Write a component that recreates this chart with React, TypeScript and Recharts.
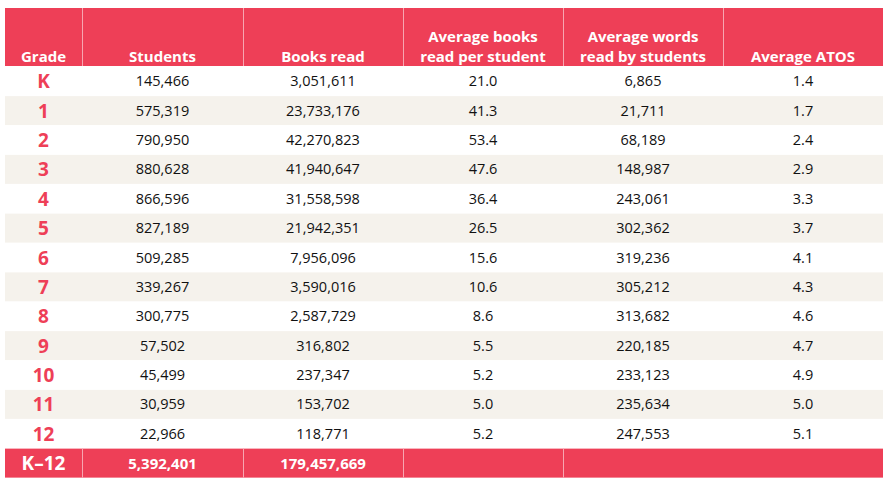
import React from "react";
import { BarChart, Bar, XAxis, YAxis } from "recharts";

const grades = ["K", "1", "2", "3", "4", "5", "6", "7", "8", "9", "10", "11", "12"];
const students = [145466, 575319, 790950, 880628, 866596, 827189, 509285, 339267, 300775, 57502, 45499, 30959, 22966];
const booksRead = [3051611, 23733176, 42270823, 41940647, 31558598, 21942351, 7956096, 3590016, 2587729, 316802, 237347, 153702, 118771];
const avgBooks = [21.0, 41.3, 53.4, 47.6, 36.4, 26.5, 15.6, 10.6, 8.6, 5.5, 5.2, 5.0, 5.2];
const avgWords = [6865, 21711, 68189, 148987, 243061, 302362, 319236, 305212, 313682, 220185, 233123, 235634, 247553];
const avgAtos = [1.4, 1.7, 2.4, 2.9, 3.3, 3.7, 4.1, 4.3, 4.6, 4.7, 4.9, 5.0, 5.1];
const headers = [["Grade"], ["Students"], ["Books read"], ["Average books", "read per student"], ["Average words", "read by students"], ["Average ATOS"]];
const totalLabel = "K\u201312";
const totalStudents = 5392401;
const totalBooks = 179457669;

// layout (column width weights)
const COL_W = [77, 161, 160, 160, 160, 160];
const TOTAL_W = COL_W.reduce((a, b) => a + b, 0);

const RED = "#EE3F57";
const BEIGE = "#F5F2EC";
const SEP = "#F7A6B1";
const FONT = "'Open Sans', sans-serif";

const fmtInt = (v: number) => v.toLocaleString("en-US");
const fmtDec = (v: number) => v.toFixed(1);

type Row = { key: string; kind: string; idx: number; cells: string[] };

const rows: Row[] = [
  { key: "h1", kind: "header", idx: -1, cells: [] },
  { key: "h2", kind: "header2", idx: -1, cells: [] },
  ...grades.map((g, i) => ({
    key: "g" + g,
    kind: "data",
    idx: i,
    cells: [g, fmtInt(students[i]), fmtInt(booksRead[i]), fmtDec(avgBooks[i]), fmtInt(avgWords[i]), fmtDec(avgAtos[i])],
  })),
  { key: "total", kind: "footer", idx: -1, cells: [totalLabel, fmtInt(totalStudents), fmtInt(totalBooks), "", "", ""] },
];

const makeShape = (col: number) => (props: any) => {
  const { x, y, width, height, payload } = props;
  const row: Row = payload;
  const cx = x + width / 2;
  if (row.kind === "header2") return <g />;
  if (row.kind === "header") {
    const h = height * 2;
    const lines = headers[col];
    const baseY = y + h - 4.5;
    return (
      <g>
        <rect x={x} y={y} width={width} height={h} fill={RED} />
        {col > 0 && <line x1={x + 0.5} x2={x + 0.5} y1={y} y2={y + h} stroke={SEP} strokeWidth={1} />}
        {lines.map((ln, li) => (
          <text
            key={li}
            x={cx}
            y={baseY - (lines.length - 1 - li) * 20}
            textAnchor="middle"
            fill="#fff"
            fontFamily={FONT}
            fontWeight={700}
            fontSize={15}
          >
            {ln}
          </text>
        ))}
      </g>
    );
  }
  if (row.kind === "footer") {
    return (
      <g>
        <rect x={x} y={y} width={width} height={height} fill={RED} />
        {col > 0 && col < 5 && <line x1={x + 0.5} x2={x + 0.5} y1={y} y2={y + height} stroke={SEP} strokeWidth={1} />}
        {row.cells[col] && (
          <text
            x={cx}
            y={y + height / 2}
            dy={col === 0 ? 7 : 5.5}
            textAnchor="middle"
            fill="#fff"
            fontFamily={FONT}
            fontWeight={700}
            fontSize={col === 0 ? 19 : 15}
          >
            {row.cells[col]}
          </text>
        )}
      </g>
    );
  }
  const bg = row.idx % 2 === 1 ? BEIGE : "#ffffff";
  return (
    <g>
      <rect x={x} y={y} width={width} height={height} fill={bg} />
      <text
        x={cx}
        y={y + height / 2}
        dy={col === 0 ? 7 : 5}
        textAnchor="middle"
        fill={col === 0 ? RED : "#111"}
        fontFamily={FONT}
        fontWeight={col === 0 ? 700 : 400}
        fontSize={col === 0 ? 19 : 14.5}
      >
        {row.cells[col]}
      </text>
    </g>
  );
};

export default function App() {
  return (
    <div style={{ position: "absolute", left: 0, top: 0, width: 887, height: 484, background: "#fff" }}>
      <BarChart
        width={887}
        height={484}
        data={rows}
        layout="vertical"
        margin={{ top: 8, right: 4, bottom: 6, left: 5 }}
        barCategoryGap={0}
        barGap={0}
      >
        <XAxis type="number" hide domain={[0, TOTAL_W]} />
        <YAxis type="category" dataKey="key" hide />
        {COL_W.map((w, i) => (
          <Bar
            key={i}
            dataKey={() => w}
            stackId="t"
            isAnimationActive={false}
            shape={makeShape(i)}
          />
        ))}
      </BarChart>
    </div>
  );
}
